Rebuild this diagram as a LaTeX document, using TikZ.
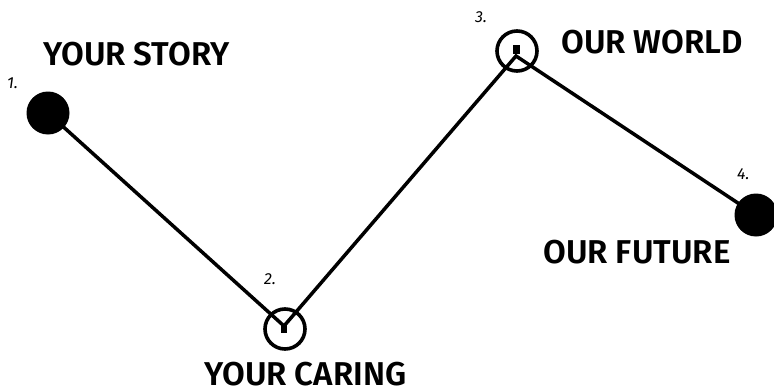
\documentclass[tikz,border=0pt]{standalone}
\usepackage{fontspec}
\setmainfont{Fira Sans}
\newfontfamily\titlefont{Fira Sans SemiBold}
\begin{document}
\begin{tikzpicture}[x=1pt,y=-1pt,
  title/.style={font=\fontsize{33}{33}\titlefont, inner sep=0pt, anchor=base west},
  num/.style={font=\fontsize{16}{16}\selectfont\itshape, inner sep=0pt, anchor=base west},
  dot/.style={circle, fill=black, inner sep=0pt, minimum size=43pt},
  ring/.style={circle, draw=black, line width=3.6pt, inner sep=0pt, minimum size=40pt},
  link/.style={line width=3.5pt},
  tick/.style={fill=black}]
\useasboundingbox (0,0) rectangle (774,388);
\node[dot] (p1) at (48,113) {};
\node[ring] (p2) at (285,329) {};
\node[ring] (p3) at (517,51) {};
\node[dot] (p4) at (756,215) {};
\coordinate (j2) at (284,326);
\coordinate (j3) at (516,56);
\fill[tick] (280.5,325) rectangle (287,333);
\fill[tick] (513,45) rectangle (519.5,54);
\draw[link] (p1.center) -- (j2) -- (j3) -- (p4.center);
\node[title] (t1) at (43,65) {YOUR STORY};
\node[title] (t2) at (204,385) {YOUR CARING};
\node[title] (t3) at (561,53) {OUR WORLD};
\node[title] (t4) at (543,263) {OUR FUTURE};
\node[num] (n1) at (7,88) {1.};
\node[num] (n2) at (264,284) {2.};
\node[num] (n3) at (475,22) {3.};
\node[num] (n4) at (737,179) {4.};
\end{tikzpicture}
\end{document}
